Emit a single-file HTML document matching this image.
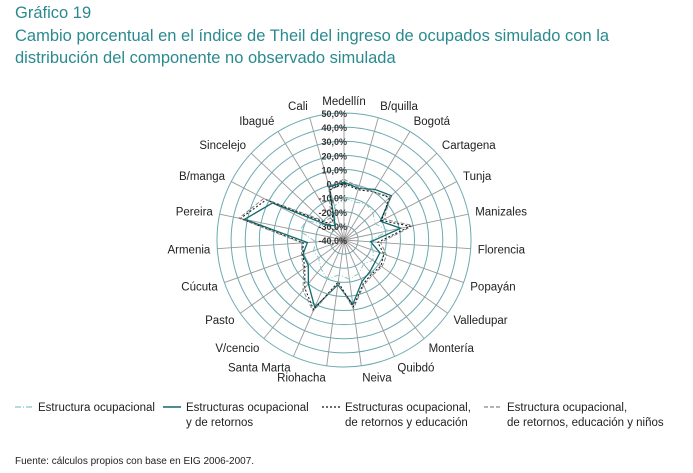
<!DOCTYPE html>
<html><head><meta charset="utf-8"><style>
body{margin:0;background:#fff;width:693px;height:473px;overflow:hidden;font-family:"Liberation Sans",sans-serif}
.t{position:absolute;left:15px;color:#2a8a8f;font-size:16.5px;white-space:nowrap}
</style></head><body>
<div class="t" style="top:4px">Gráfico 19</div>
<div class="t" style="top:27px">Cambio porcentual en el índice de Theil del ingreso de ocupados simulado con la</div>
<div class="t" style="top:49px">distribución del componente no observado simulada</div>
<svg id="c" width="693" height="473" style="position:absolute;left:0;top:0"></svg>
<div style="position:absolute;left:15px;top:456px;font-size:10px;color:#222">Fuente: cálculos propios con base en EIG 2006-2007.</div>
<script>
const categories=["Medellín","B/quilla","Bogotá","Cartagena","Tunja","Manizales","Florencia","Popayán","Valledupar","Montería","Quibdó","Neiva","Riohacha","Santa Marta","V/cencio","Pasto","Cúcuta","Armenia","Pereira","B/manga","Sincelejo","Ibagué","Cali"];
const ticks=[-40,-30,-20,-10,0,10,20,30,40,50];
const tickLabels=["-40,0%","-30,0%","-20,0%","-10,0%","0,0%","10,0%","20,0%","30,0%","40,0%","50,0%"];
const s1=[-10,-12,-10,-12,-15,-8,-22,-18,-15,-18,-14,-12,-15,-10,-14,-18,-17,-20,-8,-10,-25,-28,-15];
const s2=[1,-2,2,6,-11,1,-21,-13,-13,-11,-8,6,-8,12,0,-9,-9,-14,32,17,-25,-28,-1];
const s3=[0,-3,0,4,-10,8,-16,-10,-8,-9,-6,8,-10,14,4,-6,-9,-11,35,22,-22,-25,-3];
const s4=[3,-1,0,5,-8,10,-14,-8,-7,-8,-5,9,-9,15,6,-5,-8,-10,36,24,-20,-22,0];
const seriesNames=["Estructura ocupacional","Estructuras ocupacional\ny de retornos","Estructuras ocupacional,\nde retornos y educación","Estructura ocupacional,\nde retornos, educación y niños"];
const svg=document.getElementById('c');const NS='http://www.w3.org/2000/svg';
const cx=344,cy=240,R=127,vmin=-40,vmax=50;
const rs=v=>(v-vmin)/(vmax-vmin)*R;
const ang=i=>i*2*Math.PI/categories.length;
const pt=(i,v)=>[cx+rs(v)*Math.sin(ang(i)),cy-rs(v)*Math.cos(ang(i))];
function mk(t,a){const e=document.createElementNS(NS,t);for(const k in a)e.setAttribute(k,a[k]);svg.appendChild(e);return e;}
ticks.forEach((t,i)=>{if(i===0)return;
const e=mk('circle',{cx:cx,cy:cy,r:rs(t),fill:'none',stroke:'#6aaab0','stroke-width':1});

});
categories.forEach((c,i)=>{const[x,y]=pt(i,vmax);
const l=mk('line',{x1:cx,y1:cy,x2:x,y2:y,stroke:'#999','stroke-width':0.9});


const a=ang(i),s=Math.sin(a),co=Math.cos(a),rr=R+7;
const tx=cx+rr*s,ty=cy-rr*co+4-co*5;
const tt=mk('text',{x:tx,y:ty,'font-size':11.5,fill:'#222','text-anchor':s>0.05?'start':(s<-0.05?'end':'middle')});
tt.textContent=c;

});
ticks.forEach((t,i)=>{const e=mk('text',{x:cx+3,y:cy-rs(t)+4,'font-size':9,'font-weight':'bold','text-anchor':'end',fill:'#333'});
e.textContent=tickLabels[i];

});
const styles=[{stroke:'#8cc3c6',dash:'6,2,1,2',w:1},{stroke:'#11696d',dash:'',w:1.3},{stroke:'#111',dash:'2,2',w:1},{stroke:'#888',dash:'4,2',w:1}];
[s1,s2,s3,s4].forEach((d,k)=>{const p=d.map((v,i)=>pt(i,v).join(',')).join(' ');
const e=mk('polygon',{points:p,fill:'none',stroke:styles[k].stroke,'stroke-width':styles[k].w,'stroke-dasharray':styles[k].dash});

});
const lx=[15,163,322,484];
seriesNames.forEach((n,k)=>{const y=407;
const l=mk('line',{x1:lx[k],y1:y,x2:lx[k]+18,y2:y,stroke:styles[k].stroke,'stroke-width':styles[k].w+0.3,'stroke-dasharray':styles[k].dash});


n.split('\n').forEach((ln,j)=>{const t=mk('text',{x:lx[k]+23,y:y+4+j*15,'font-size':11.5,fill:'#222'});t.textContent=ln;

});});
</script>
</body></html>
